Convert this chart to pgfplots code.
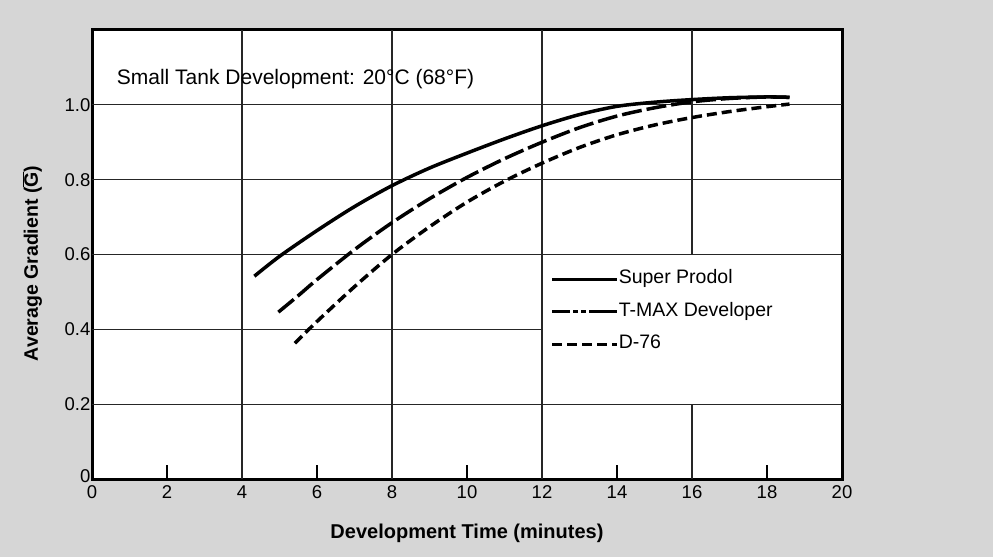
\documentclass[border=0pt]{standalone}
\usepackage{fontspec}
\setmainfont{Liberation Sans}
\usepackage{pgfplots}
\pgfplotsset{compat=1.18}
\definecolor{bgcol}{rgb}{0.84,0.84,0.84}
\begin{document}
\begin{tikzpicture}[x=1pt,y=1pt]
\fill[bgcol] (0,0) rectangle (993,557);
\begin{axis}[
  at={(92pt,78pt)}, anchor=south west,
  scale only axis, width=750pt, height=449pt,
  xmin=0, xmax=20, ymin=0, ymax=1.2,
  axis background/.style={fill=white},
  axis line style={line width=3pt, black},
  xtick={0,2,4,6,8,10,12,14,16,18,20},
  xticklabels={0,2,4,6,8,10,12,14,16,18,20},
  ytick={0,0.2,0.4,0.6,0.8,1.0},
  yticklabels={\raisebox{6pt}{0},0.2,0.4,0.6,0.8,1.0},
  xtick pos=bottom, ytick pos=left,
  tick align=inside,
  major tick length=14pt,
  xtick style={line width=1.3pt, black},
  ytick style={draw=none},
  ticklabel style={font=\fontsize{18.5}{20}\selectfont},
  yticklabel style={inner sep=1.5pt},
  xticklabel style={yshift=-3pt},
  xlabel={Development Time (minutes)},
  ylabel={Average Gradient ($\overline{\mbox{\bfseries G}}$)},
  xlabel style={at={(axis description cs:0.5,-0.1336)}, anchor=base, font=\fontsize{20}{24}\selectfont\bfseries},
  ylabel style={at={(axis description cs:-0.072,0.48)}, anchor=base, font=\fontsize{19.5}{22}\selectfont\bfseries},
  no markers,
  legend cell align=left,
  legend style={at={(axis cs:12.24,0.447)}, anchor=west, draw=none, fill=none,
    inner sep=0pt, outer sep=0pt, row sep=13.5pt,
    font=\fontsize{19.5}{22}\selectfont,
    nodes={inner sep=0pt, text height=14pt, text depth=5pt},
    /tikz/every even column/.append style={column sep=2pt}},
]
% grid
\draw[line width=1.3pt, black!85] (axis cs:0,0.2) -- (axis cs:20,0.2);
\draw[line width=1.3pt, black!85] (axis cs:0,0.4) -- (axis cs:12,0.4);
\draw[line width=1.3pt, black!85] (axis cs:0,0.6) -- (axis cs:20,0.6);
\draw[line width=1.3pt, black!85] (axis cs:0,0.8) -- (axis cs:20,0.8);
\draw[line width=1.3pt, black!85] (axis cs:0,1.0) -- (axis cs:20,1.0);
\draw[line width=1.3pt, black!85] (axis cs:4,0) -- (axis cs:4,1.2);
\draw[line width=1.3pt, black!85] (axis cs:8,0) -- (axis cs:8,1.2);
\draw[line width=1.3pt, black!85] (axis cs:12,0) -- (axis cs:12,1.2);
\draw[line width=1.3pt, black!85] (axis cs:16,0) -- (axis cs:16,0.2);
\draw[line width=1.3pt, black!85] (axis cs:16,0.6) -- (axis cs:16,1.2);
\node[anchor=base west, font=\fontsize{21}{24}\selectfont] at (axis cs:0.57,1.055) {Small Tank Development: 20°C (68°F)};

\addplot[black, line width=3.5pt, smooth,
  legend image code/.code={\draw[black, line width=2.8pt] (0pt,0pt) -- (65pt,0pt);}] coordinates {
(4.33,0.542) (5,0.595) (6,0.664) (7,0.728) (8,0.784) (9,0.831) (10,0.871) (11,0.909)
(12,0.944) (13,0.974) (14,0.996) (15,1.007) (16,1.014) (17,1.019) (18,1.021) (18.6,1.020)};
\addlegendentry{Super Prodol}

\addplot[black, line width=3.5pt, smooth, dash pattern=on 20pt off 5pt,
  legend image code/.code={\draw[black, line width=2.8pt, dash pattern=on 18pt off 3pt on 5pt off 3pt on 5pt off 3pt on 40pt off 0pt] (0pt,0pt) -- (65pt,0pt);}] coordinates {
(4.97,0.446) (5.5,0.490) (6,0.533) (7,0.613) (8,0.685) (9,0.749) (10,0.806) (11,0.856)
(12,0.900) (13,0.939) (14,0.970) (15,0.992) (16,1.008) (17,1.017) (18,1.021) (18.6,1.020)};
\addlegendentry{T-MAX Developer}

\addplot[black, line width=3.5pt, smooth, dash pattern=on 10pt off 5pt,
  legend image code/.code={\draw[black, line width=2.8pt, dash pattern=on 10pt off 5pt] (0pt,0pt) -- (65pt,0pt);}] coordinates {
(5.41,0.363) (6,0.421) (7,0.514) (8,0.600) (9,0.674) (10,0.740) (11,0.796) (12,0.844)
(13,0.886) (14,0.920) (15,0.946) (16,0.966) (17,0.982) (18,0.995) (18.6,1.002)};
\addlegendentry{D-76}
\end{axis}
\end{tikzpicture}
\end{document}
